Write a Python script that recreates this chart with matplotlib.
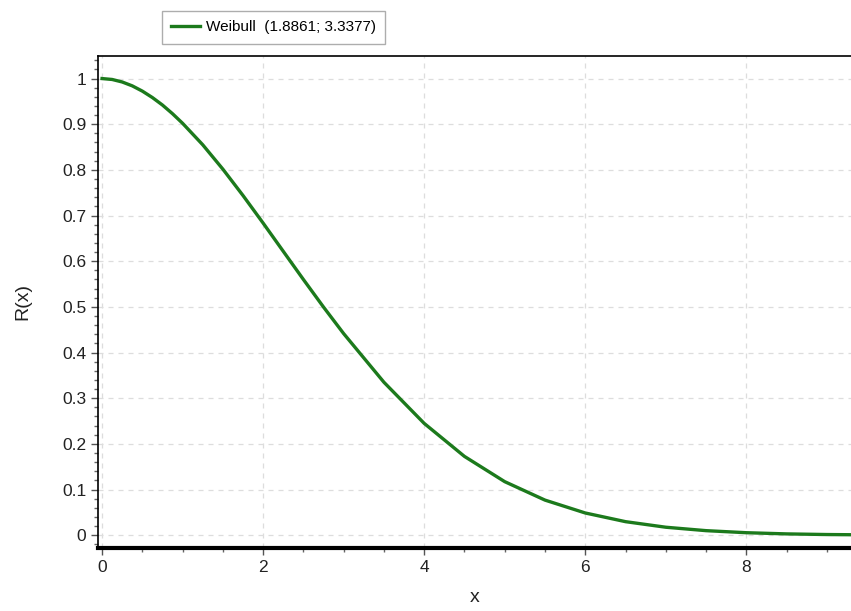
import matplotlib
matplotlib.use("Agg")
import matplotlib.pyplot as plt
from matplotlib.ticker import MultipleLocator

# values (Weibull reliability, shape 1.8861, scale 3.3377)
x_vals = [0.0, 0.125, 0.25, 0.375, 0.5, 0.625, 0.75, 0.875, 1.0, 1.25, 1.5,
          1.75, 2.0, 2.25, 2.5, 2.75, 3.0, 3.5, 4.0, 4.5, 5.0, 5.5, 6.0, 6.5,
          7.0, 7.5, 8.0, 8.5, 9.0, 9.5]
r_vals = [1.0, 0.998, 0.9925, 0.984, 0.9725, 0.9584, 0.942, 0.923, 0.902,
          0.855, 0.8016, 0.7439, 0.6835, 0.6217, 0.560, 0.4996, 0.4415, 0.335,
          0.2449, 0.1726, 0.1173, 0.0769, 0.0487, 0.0297, 0.0175, 0.0100,
          0.0055, 0.0029, 0.0015, 0.0008]
series_label = "Weibull  (1.8861; 3.3377)"
y_ticks = [0, 0.1, 0.2, 0.3, 0.4, 0.5, 0.6, 0.7, 0.8, 0.9, 1]
y_ticklabels = ["0", "0.1", "0.2", "0.3", "0.4", "0.5", "0.6", "0.7", "0.8", "0.9", "1"]
x_ticks = [0, 2, 4, 6, 8]

plt.rcParams["font.family"] = ["Liberation Sans", "DejaVu Sans"]

fig = plt.figure(figsize=(8.51, 6.11), dpi=100)
ax = fig.add_axes([0.1152, 0.1031, 0.8848, 0.8057])

line, = ax.plot(x_vals, r_vals, color="#1c7a1c", lw=2.4, label=series_label)

ax.set_xlim(-0.05, 9.30)
ax.set_ylim(-0.028, 1.05)
ax.set_xticks(x_ticks)
ax.set_yticks(y_ticks)
ax.set_yticklabels(y_ticklabels)
ax.xaxis.set_minor_locator(MultipleLocator(0.5))
ax.yaxis.set_minor_locator(MultipleLocator(0.02))
ax.tick_params(axis="both", which="major", labelsize=12.5, length=5, width=1,
               color="#555555", labelcolor="#222222", direction="out")
ax.tick_params(axis="both", which="minor", length=3, width=1, color="#666666",
               direction="out")

ax.grid(True, which="major", linestyle=(0, (4, 4)), color="#dddddd", lw=0.9)
ax.spines["right"].set_visible(False)
ax.spines["top"].set_linewidth(1.2)
ax.spines["left"].set_linewidth(1.2)
ax.spines["bottom"].set_linewidth(3.0)

ax.set_xlabel("x", fontsize=14, color="#222222", labelpad=10)
ax.set_ylabel("R(x)", fontsize=14, color="#222222", labelpad=22)

leg = fig.legend(handles=[line], loc="center", bbox_to_anchor=(0.3214, 0.955),
                 fontsize=11, frameon=True, fancybox=False, handlelength=1.9,
                 borderpad=0.6, handletextpad=0.35, borderaxespad=0)
leg.get_frame().set_edgecolor("#999999")
leg.get_frame().set_linewidth(1.0)

fig.savefig("out.png", dpi=100)
